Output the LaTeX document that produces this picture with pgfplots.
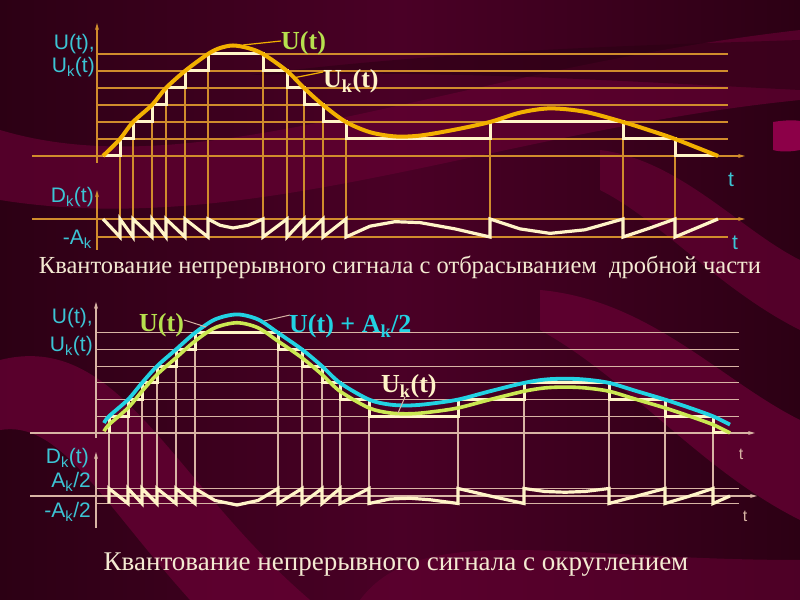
\documentclass[border=0pt]{standalone}
\usepackage{fontspec}
\setmainfont{Liberation Serif}
\setsansfont{Liberation Sans}
\usepackage{pgfplots}
\pgfplotsset{compat=1.18}
\usepackage{pgfplotstable}
\usetikzlibrary{arrows.meta}

\definecolor{bgbase}{HTML}{4A0026}
\definecolor{bgdark}{HTML}{2C0014}
\definecolor{bglight}{HTML}{640032}
\definecolor{bgpink}{HTML}{8C0048}
\definecolor{gridtop}{HTML}{D08C2C}
\definecolor{gridbot}{HTML}{D8B4A4}
\definecolor{ugold}{HTML}{F2B000}
\definecolor{cream}{HTML}{FFF4C8}
\definecolor{ugreen}{HTML}{CBE852}
\definecolor{ucyan}{HTML}{22D2E2}
\definecolor{lblcyan}{HTML}{3CC4D4}
\definecolor{lblgreen}{HTML}{B6E04E}
\definecolor{captext}{HTML}{F4EAD2}

% top panel: truncation, U in quantum levels, t in screen units
\pgfplotstableread{
t u
103 0
120 1
133 2
152 3
166 4
185 5
208 6
220 6.35
233 6.5
248 6.35
263 6
287 5
304 4
323 3
346 2
370 1.4
395 1.15
420 1.2
455 1.55
490 2
520 2.55
550 2.8
585 2.6
623 2
650 1.5
675 1
718 0
}\topU

% samples with the quantized value (jumps listed twice)
\pgfplotstableread{
t u uk
103 0 0
120 1 0
120 1 1
133 2 1
133 2 2
152 3 2
152 3 3
166 4 3
166 4 4
185 5 4
185 5 5
208 6 5
208 6 6
220 6.35 6
233 6.5 6
248 6.35 6
263 6 6
263 6 5
287 5 5
287 5 4
304 4 4
304 4 3
323 3 3
323 3 2
346 2 2
346 2 1
370 1.4 1
395 1.15 1
420 1.2 1
455 1.55 1
490 2 1
490 2 2
520 2.55 2
550 2.8 2
585 2.6 2
623 2 2
623 2 1
650 1.5 1
675 1 1
675 1 0
718 0 0
}\topB

% bottom panel: rounding
\pgfplotstableread{
t u
104 0.1
109 0.5
128 1.5
142 2.5
157 3.5
176 4.5
195 5.5
215 6.3
237 6.6
258 6.3
278 5.5
302 4.5
322 3.5
340 2.5
369 1.5
390 1.2
410 1.15
430 1.25
458 1.5
490 2.0
524 2.5
545 2.7
565 2.75
585 2.7
609 2.5
637 2.0
665 1.5
690 1.0
713 0.5
730 0
}\botU

\pgfplotstableread{
t u uk
109 0.5 0
109 0.5 1
128 1.5 1
128 1.5 2
142 2.5 2
142 2.5 3
157 3.5 3
157 3.5 4
176 4.5 4
176 4.5 5
195 5.5 5
195 5.5 6
215 6.3 6
237 6.6 6
258 6.3 6
278 5.5 6
278 5.5 5
302 4.5 5
302 4.5 4
322 3.5 4
322 3.5 3
340 2.5 3
340 2.5 2
369 1.5 2
369 1.5 1
390 1.2 1
410 1.15 1
430 1.25 1
458 1.5 1
458 1.5 2
490 2.0 2
524 2.5 2
524 2.5 3
545 2.7 3
565 2.75 3
585 2.7 3
609 2.5 3
609 2.5 2
637 2.0 2
665 1.5 2
665 1.5 1
690 1.0 1
713 0.5 1
713 0.5 0
730 0 0
}\botB

\pgfplotsset{every axis/.append style={hide axis, clip=false, x=1bp,
  xmin=0, xmax=800, enlargelimits=false, anchor=south west}}

\newcommand\lblfont{\sffamily\fontsize{21bp}{24bp}\selectfont}
\newcommand\curvefont{\rmfamily\bfseries\fontsize{26bp}{28bp}\selectfont}

\begin{document}
\begin{tikzpicture}[x=1bp,y=1bp,>={Stealth[length=7bp,width=4bp]}]
\path[use as bounding box] (0,0) rectangle (800,600);

% background
\begin{scope}[shift={(0,600)},yscale=-1]
\shade[left color=bgdark, right color=bgdark, middle color=bgbase] (0,0) rectangle (800,600);
\fill[bglight,opacity=0.7] (0,130) .. controls (200,190) and (450,70) .. (800,30)
  -- (800,100) .. controls (500,130) and (250,240) .. (0,200) -- cycle;
\fill[bgdark,opacity=0.6] (250,75) .. controls (450,50) and (650,45) .. (800,40)
  -- (800,90) .. controls (600,80) and (450,70) .. (250,75) -- cycle;
\fill[bglight,opacity=0.8] (0,360) .. controls (120,330) and (170,480) .. (310,600)
  -- (190,600) .. controls (100,500) and (60,420) .. (0,430) -- cycle;
\fill[bglight,opacity=0.8] (540,290) .. controls (650,300) and (720,380) .. (800,420)
  -- (800,520) .. controls (700,470) and (630,380) .. (540,330) -- cycle;
\fill[bglight,opacity=0.7] (600,150) .. controls (680,160) and (740,230) .. (800,260)
  -- (800,330) .. controls (720,290) and (660,220) .. (600,190) -- cycle;
\fill[bgpink] (773,122) .. controls (785,120) and (795,120) .. (800,121)
  -- (800,150) .. controls (790,152) and (780,152) .. (773,150) -- cycle;
\fill[bglight,opacity=0.6] (360,600) .. controls (420,520) and (560,560) .. (800,560)
  -- (800,600) -- cycle;
\end{scope}

% ---------- top: truncation ----------
\begin{axis}[at={(0bp,444bp)}, y=17bp, ymin=0, ymax=8]
\pgfplotsinvokeforeach{1,...,6}{
  \addplot[gridtop, line width=1.1bp] coordinates {(97,#1) (728,#1)};
}
\draw[gridtop, line width=1.1bp, ->] (axis cs:32,0) -- (axis cs:745,0);
\draw[gridtop, line width=1.1bp, ->] (axis cs:97,-0.41) -- (axis cs:97,7.82);
\addplot[gridtop, line width=1.1bp, unbounded coords=jump] coordinates {
 (120,1)(120,-4.765)(120,nan) (133,2)(133,-4.765)(133,nan)
 (152,3)(152,-4.765)(152,nan) (166,4)(166,-4.765)(166,nan)
 (185,5)(185,-4.765)(185,nan) (208,6)(208,-4.765)(208,nan)
 (263,6)(263,-4.765)(263,nan) (287,5)(287,-4.765)(287,nan)
 (304,4)(304,-4.765)(304,nan) (323,3)(323,-4.765)(323,nan)
 (346,2)(346,-4.765)(346,nan) (490,2)(490,-4.765)(490,nan)
 (623,2)(623,-4.765)(623,nan) (675,1)(675,-4.765)};
\addplot[cream, line width=3bp, line join=miter] table[x=t, y=uk] {\topB};
\addplot[ugold, line width=4bp, smooth] table[x=t, y=u] {\topU};
\end{axis}

\begin{axis}[at={(0bp,363bp)}, y=18bp, ymin=-1, ymax=0]
\draw[gridtop, line width=1.1bp] (axis cs:97,-1) -- (axis cs:728,-1);
\draw[gridtop, line width=1.1bp, ->] (axis cs:32,0) -- (axis cs:745,0);
\draw[gridtop, line width=1.1bp, ->] (axis cs:97,-1.72) -- (axis cs:97,1.6);
\addplot[cream, line width=3.2bp, line join=miter] table[x=t, y expr=\thisrow{uk}-\thisrow{u}] {\topB};
\end{axis}

% ---------- bottom: rounding ----------
\begin{axis}[at={(0bp,167bp)}, y=16.7bp, ymin=0, ymax=8]
\pgfplotsinvokeforeach{1,...,6}{
  \addplot[gridbot, line width=1.2bp] coordinates {(96,#1) (739,#1)};
}
\draw[gridbot, line width=1.2bp, ->] (axis cs:30,0) -- (axis cs:755,0);
\draw[gridbot, line width=1.2bp, ->] (axis cs:96,-0.3) -- (axis cs:96,7.85);
\addplot[gridbot, line width=1.1bp, unbounded coords=jump] coordinates {
 (109,1)(109,-4.19)(109,nan) (128,2)(128,-4.19)(128,nan)
 (142,3)(142,-4.19)(142,nan) (157,4)(157,-4.19)(157,nan)
 (176,5)(176,-4.19)(176,nan) (195,6)(195,-4.19)(195,nan)
 (278,6)(278,-4.19)(278,nan) (302,5)(302,-4.19)(302,nan)
 (322,4)(322,-4.19)(322,nan) (340,3)(340,-4.19)(340,nan)
 (369,2)(369,-4.19)(369,nan) (458,2)(458,-4.19)(458,nan)
 (524,3)(524,-4.19)(524,nan) (609,3)(609,-4.19)(609,nan)
 (665,2)(665,-4.19)(665,nan) (713,1)(713,-4.19)};
\addplot[cream, line width=3bp, line join=miter] table[x=t, y=uk] {\botB};
\addplot[ugreen, line width=3.6bp, smooth] table[x=t, y=u] {\botU};
\addplot[ucyan, line width=3.8bp, smooth] table[x=t, y expr=\thisrow{u}+0.5] {\botU};
\end{axis}

\begin{axis}[at={(0bp,96.5bp)}, y=15bp, ymin=-0.5, ymax=0.5]
\draw[gridbot, line width=1.2bp] (axis cs:96,0.5) -- (axis cs:739,0.5);
\draw[gridbot, line width=1.2bp] (axis cs:96,-0.5) -- (axis cs:739,-0.5);
\draw[gridbot, line width=1.2bp, ->] (axis cs:30,0) -- (axis cs:757,0);
\draw[gridbot, line width=1.2bp, ->] (axis cs:96,-2.13) -- (axis cs:96,2.93);
\addplot[cream, line width=3.2bp, line join=miter] table[x=t, y expr=\thisrow{uk}-\thisrow{u}] {\botB};
\end{axis}

% ---------- labels ----------
\begin{scope}[shift={(0,600)},yscale=-1, every node/.style={inner sep=0pt}]
% top
\node[anchor=base east, text=lblcyan, font=\lblfont] at (95,50) {U(t),};
\node[anchor=base east, text=lblcyan, font=\lblfont] at (95,73) {U\textsubscript{k}(t)};
\node[anchor=base east, text=lblcyan, font=\lblfont] at (94,203) {D\textsubscript{k}(t)};
\node[anchor=base east, text=lblcyan, font=\lblfont] at (92,245) {-A\textsubscript{k}};
\node[anchor=base, text=lblcyan, font=\lblfont] at (731,187) {t};
\node[anchor=base, text=lblcyan, font=\lblfont] at (735,250) {t};
\draw[ugold, line width=1.2bp] (243,45) -- (281,41);
\draw[ugold, line width=1.2bp] (293,78) -- (323,72);
\node[anchor=base west, text=lblgreen, font=\curvefont] at (281,50) {U(t)};
\node[anchor=base west, text=cream, font=\curvefont] at (323,88) {U\textsubscript{k}(t)};
\node[anchor=base, text=captext, font=\rmfamily\fontsize{24.5bp}{28bp}\selectfont] at (400,274)
  {Квантование непрерывного сигнала с отбрасыванием\ \ дробной части};
% bottom
\node[anchor=base east, text=lblcyan, font=\lblfont] at (93,324) {U(t),};
\node[anchor=base east, text=lblcyan, font=\lblfont] at (93,352) {U\textsubscript{k}(t)};
\node[anchor=base east, text=lblcyan, font=\lblfont] at (89,464) {D\textsubscript{k}(t)};
\node[anchor=base east, text=lblcyan, font=\lblfont] at (91,488) {A\textsubscript{k}/2};
\node[anchor=base east, text=lblcyan, font=\lblfont] at (91,518) {-A\textsubscript{k}/2};
\node[anchor=base, text=gridbot, font=\sffamily\fontsize{16bp}{18bp}\selectfont] at (741,460) {t};
\node[anchor=base, text=gridbot, font=\sffamily\fontsize{16bp}{18bp}\selectfont] at (745,522) {t};
\draw[gridbot, line width=1bp] (184,320) -- (206,327);
\draw[gridbot, line width=1bp] (264,321) -- (290,315);
\draw[gridbot, line width=1bp] (405,397) -- (398,413);
\node[anchor=base west, text=lblgreen, font=\curvefont] at (139,332) {U(t)};
\node[anchor=base west, text=ucyan, font=\curvefont] at (289,333) {U(t) + A\textsubscript{k}/2};
\node[anchor=base west, text=cream, font=\curvefont] at (381,393) {U\textsubscript{k}(t)};
\node[anchor=base, text=captext, font=\rmfamily\fontsize{27bp}{30bp}\selectfont] at (396,571)
  {Квантование непрерывного сигнала с округлением};
\end{scope}
\end{tikzpicture}
\end{document}
